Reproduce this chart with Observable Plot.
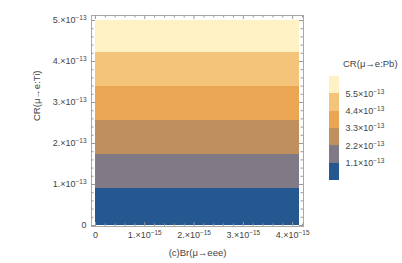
<!DOCTYPE html>
<html><head><meta charset="utf-8">
<script src="https://cdn.jsdelivr.net/npm/d3@7"></script>
<script src="https://cdn.jsdelivr.net/npm/@observablehq/plot@0.6"></script>
<style>
body{margin:0;background:#fff;}
#wrap{position:relative;width:402px;height:263px;overflow:hidden;font-family:"Liberation Sans",Arial,sans-serif;}
#legend{position:absolute;left:320px;top:50px;}
#ltitle{position:absolute;left:343px;top:58px;font-size:9.5px;line-height:11px;color:#444;white-space:nowrap;}
</style></head><body><div id="wrap"><div id="ltitle">CR(μ→e:Pb)</div></div>
<script>
// ---- data ----
const xTicks = [0, 1e-15, 2e-15, 3e-15, 4e-15];
const yTicks = [0, 1e-13, 2e-13, 3e-13, 4e-13, 5e-13];
const xMinorTicks = d3.range(0, 22).map(i => i * 0.2e-15).filter(v => Math.abs(v / 1e-15 - Math.round(v / 1e-15)) > 1e-6);
const yMinorTicks = d3.range(0, 26).map(i => i * 0.2e-13).filter(v => Math.abs(v / 1e-13 - Math.round(v / 1e-13)) > 1e-6);
const brRange = [0, 4.13e-15];
const bandLow  = [0, 0.90e-13, 1.73e-13, 2.56e-13, 3.39e-13, 4.22e-13];
const bandHigh = [0.90e-13, 1.73e-13, 2.56e-13, 3.39e-13, 4.22e-13, 5.00e-13];
const bandColors = ["#255790", "#807a86", "#c08f5e", "#eaa653", "#f3c47a", "#fef2c4"];
const legendThresholds = [1.1e-13, 2.2e-13, 3.3e-13, 4.4e-13, 5.5e-13];
const legendDomain = [0, 6.6e-13];
const xLabel = "(c)Br(μ→eee)";
const yLabel = "CR(μ→e:Ti)";

const bands = bandLow.map((lo, i) => ({lo, hi: bandHigh[i], color: bandColors[i], x1: brRange[0], x2: brRange[1]}));
const legendEdges = [legendDomain[0], ...legendThresholds, legendDomain[1]];
const legendBins = bandColors.map((c, i) => ({lo: legendEdges[i], hi: legendEdges[i + 1], color: c}));

function sci(exp, forceDot) {
  return v => {
    if (v === 0) return "0";
    const m = Math.round(v / Math.pow(10, exp) * 10) / 10;
    const ms = Number.isInteger(m) ? m + "." : String(m);
    return ms + "×10^" + exp;
  };
}
function supify(svg) {
  d3.select(svg).selectAll("text").each(function () {
    const t = this.textContent;
    const mm = t.match(/^(.*)\^(.*)$/);
    if (!mm) return;
    const el = d3.select(this);
    el.text(null);
    el.append("tspan").text(mm[1]);
    el.append("tspan").attr("dy", "-0.48em").attr("font-size", "0.72em").text(mm[2].replace("-", "−"));
  });
}

const W = 402, H = 263, mL = 91, mR = 99, mT = 15, mB = 37;
const fw = W - mL - mR, fh = H - mT - mB;
const tickCol = "#9a9a9a";

const main = Plot.plot({
  width: W, height: H,
  marginLeft: mL, marginRight: mR, marginTop: mT, marginBottom: mB,
  x: {domain: [-0.08e-15, 4.22e-15]},
  y: {domain: [-0.025e-13, 5.122e-13]},
  style: {fontFamily: "Liberation Sans, Arial, sans-serif", fontSize: "9px", color: "#444", background: "white"},
  marks: [
    Plot.rect(bands, {x1: "x1", x2: "x2", y1: "lo", y2: "hi", fill: "color", shapeRendering: "crispEdges"}),
    Plot.frame({stroke: "#a8a8a8"}),
    Plot.ruleX(xTicks, {x: d => d, insetBottom: fh - 4, stroke: tickCol}),
    Plot.ruleX(xTicks, {x: d => d, insetTop: fh - 4, stroke: tickCol}),
    Plot.ruleX(xMinorTicks, {x: d => d, insetBottom: fh - 2.5, stroke: tickCol}),
    Plot.ruleX(xMinorTicks, {x: d => d, insetTop: fh - 2.5, stroke: tickCol}),
    Plot.ruleY(yTicks, {y: d => d, insetRight: fw - 4, stroke: tickCol}),
    Plot.ruleY(yTicks, {y: d => d, insetLeft: fw - 4, stroke: tickCol}),
    Plot.ruleY(yMinorTicks, {y: d => d, insetRight: fw - 2.5, stroke: tickCol}),
    Plot.ruleY(yMinorTicks, {y: d => d, insetLeft: fw - 2.5, stroke: tickCol}),
    Plot.axisX(xTicks, {tickSize: 0, tickPadding: 5, tickFormat: sci(-15), label: null}),
    Plot.axisY(yTicks, {tickSize: 0, tickPadding: 5, tickFormat: sci(-13), label: null}),
    Plot.text([xLabel], {text: d => d, frameAnchor: "bottom", dy: 29, fontSize: 9.5, fill: "#444"}),
    Plot.text([yLabel], {text: d => d, frameAnchor: "left", rotate: -90, dx: -55, fontSize: 9.5, fill: "#444"})
  ]
});
supify(main);

const legend = Plot.plot({
  width: 82, height: 135, margin: 0,
  x: {domain: [0, 1], range: [9, 19], axis: null},
  y: {domain: legendDomain, range: [130, 26], axis: null},
  style: {fontFamily: "Liberation Sans, Arial, sans-serif", fontSize: "9px", color: "#444", background: "transparent", overflow: "visible"},
  marks: [
    Plot.rect(legendBins, {x1: 0, x2: 1, y1: "lo", y2: "hi", fill: "color", shapeRendering: "crispEdges"}),
    Plot.text(legendThresholds, {x: 1, y: d => d, text: sci(-13), dx: 6, textAnchor: "start", fill: "#444"})
  ]
});
supify(legend);
legend.id = "legend";

const wrap = document.getElementById("wrap");
wrap.insertBefore(main, wrap.firstChild);
wrap.appendChild(legend);
</script>
</body></html>
